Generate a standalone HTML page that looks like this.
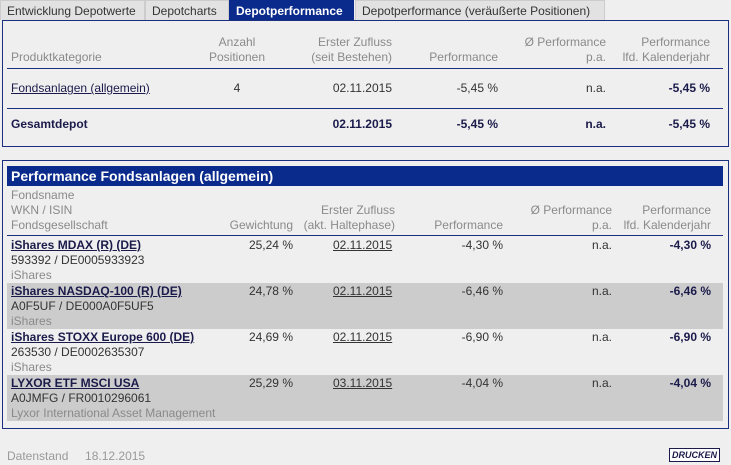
<!DOCTYPE html>
<html><head><meta charset="utf-8"><style>
body{margin:0;width:731px;height:465px;background:#efefef;font-family:"Liberation Sans",Arial,sans-serif;font-size:12px;color:#333;position:relative;overflow:hidden}
.a{position:absolute;white-space:nowrap;line-height:15px}
.r{text-align:right}.c{text-align:center}
.h{color:#8a8a8a}
.b{font-weight:bold;color:#1b1b4b}
.l{text-decoration:underline;color:#1b1b4b}
.tab{position:absolute;top:0;height:20px;line-height:20px;background:#e2e2e2;border:1px solid #ccc;border-bottom:none;box-sizing:border-box;padding:0 6px;color:#333}
.panel{position:absolute;border:1px solid #1c2f7e;box-sizing:border-box;background:#efefef}
.hr{position:absolute;height:1px;background:#1c2f7e}
.row{position:absolute;left:7px;width:716px;height:46px}
</style></head><body>
<div class="tab" style="left:0;width:145px">Entwicklung Depotwerte</div>
<div class="tab" style="left:145px;width:84px">Depotcharts</div>
<div class="tab" style="left:229px;width:125px;background:#0a2b8c;color:#fff;font-weight:bold;border-color:#0a2b8c">Depotperformance</div>
<div class="tab" style="left:355px;width:250px">Depotperformance (veräußerte Positionen)</div>

<div class="panel" style="left:2px;top:20px;width:727px;height:127px"></div>
<div class="a h" style="left:11px;top:50px">Produktkategorie</div>
<div class="a h c" style="left:197px;width:80px;top:35px">Anzahl<br>Positionen</div>
<div class="a h r" style="left:280px;width:112px;top:35px">Erster Zufluss<br>(seit Bestehen)</div>
<div class="a h r" style="left:400px;width:98px;top:50px">Performance</div>
<div class="a h r" style="left:500px;width:106px;top:35px">Ø Performance<br>p.a.</div>
<div class="a h r" style="left:600px;width:110px;top:35px">Performance<br>lfd. Kalenderjahr</div>
<div class="hr" style="left:7px;top:68px;width:716px"></div>
<div class="a l" style="left:11px;top:81px">Fondsanlagen (allgemein)</div>
<div class="a c" style="left:197px;width:80px;top:81px">4</div>
<div class="a r" style="left:280px;width:112px;top:81px">02.11.2015</div>
<div class="a r" style="left:400px;width:98px;top:81px">-5,45 %</div>
<div class="a r" style="left:500px;width:106px;top:81px">n.a.</div>
<div class="a r b" style="left:600px;width:110px;top:81px">-5,45 %</div>
<div class="hr" style="left:7px;top:108px;width:716px"></div>
<div class="a b" style="left:11px;top:117px">Gesamtdepot</div>
<div class="a r b" style="left:280px;width:112px;top:117px">02.11.2015</div>
<div class="a r b" style="left:400px;width:98px;top:117px">-5,45 %</div>
<div class="a r b" style="left:500px;width:106px;top:117px">n.a.</div>
<div class="a r b" style="left:600px;width:110px;top:117px">-5,45 %</div>

<div class="panel" style="left:2px;top:160px;width:727px;height:269px"></div>
<div class="a" style="left:7px;top:166px;width:716px;height:20px;line-height:20px;background:#0a2b8c;color:#fff;font-weight:bold;font-size:14px;padding-left:4px;box-sizing:border-box">Performance Fondsanlagen (allgemein)</div>
<div class="a h" style="left:11px;top:188px">Fondsname<br>WKN / ISIN<br>Fondsgesellschaft</div>
<div class="a h r" style="left:200px;width:93px;top:218px">Gewichtung</div>
<div class="a h r" style="left:290px;width:105px;top:203px">Erster Zufluss<br>(akt. Haltephase)</div>
<div class="a h r" style="left:400px;width:103px;top:218px">Performance</div>
<div class="a h r" style="left:500px;width:112px;top:203px">Ø Performance<br>p.a.</div>
<div class="a h r" style="left:600px;width:111px;top:203px">Performance<br>lfd. Kalenderjahr</div>
<div class="hr" style="left:7px;top:235px;width:716px"></div>
<div id="rows"></div>

<div class="a h" style="left:7px;top:449px;color:#999">Datenstand&nbsp;&nbsp;&nbsp;&nbsp;&nbsp;18.12.2015</div>
<div class="a" style="left:669px;top:448px;width:51px;height:14px;line-height:13px;border:1px solid #1b1b4b;background:#fff;font-size:9px;font-weight:bold;font-style:italic;color:#1b1b4b;text-align:center;box-sizing:border-box">DRUCKEN</div>

<script>
const names=["iShares MDAX (R) (DE)","iShares NASDAQ-100 (R) (DE)","iShares STOXX Europe 600 (DE)","LYXOR ETF MSCI USA"];
const ids=["593392 /  DE0005933923","A0F5UF /  DE000A0F5UF5","263530 /  DE0002635307","A0JMFG /  FR0010296061"];
const firms=["iShares","iShares","iShares","Lyxor International Asset Management"];
const weights=["25,24 %","24,78 %","24,69 %","25,29 %"];
const dates=["02.11.2015","02.11.2015","02.11.2015","03.11.2015"];
const perfs=["-4,30 %","-6,46 %","-6,90 %","-4,04 %"];
const c=document.getElementById('rows');
names.forEach((n,i)=>{
 const top=237+i*46;
 const row=document.createElement('div');
 row.className='row';
 
 
 row.style.top=top+'px';
 row.style.background=i%2?'#cccccc':'#efefef';
 row.innerHTML=
 '<div class="a b" style="left:4px;top:1px;text-decoration:underline">'+n+'</div>'+
 '<div class="a" style="left:4px;top:16px">'+ids[i]+'</div>'+
 '<div class="a h" style="left:4px;top:31px">'+firms[i]+'</div>'+
 '<div class="a r" style="left:193px;width:93px;top:1px">'+weights[i]+'</div>'+
 '<div class="a l" style="left:326px;top:1px;color:#333">'+dates[i]+'</div>'+
 '<div class="a r" style="left:393px;width:103px;top:1px">'+perfs[i]+'</div>'+
 '<div class="a r" style="left:493px;width:112px;top:1px">n.a.</div>'+
 '<div class="a r b" style="left:593px;width:111px;top:1px">'+perfs[i]+'</div>';
 c.appendChild(row);
});
</script>
</body></html>
